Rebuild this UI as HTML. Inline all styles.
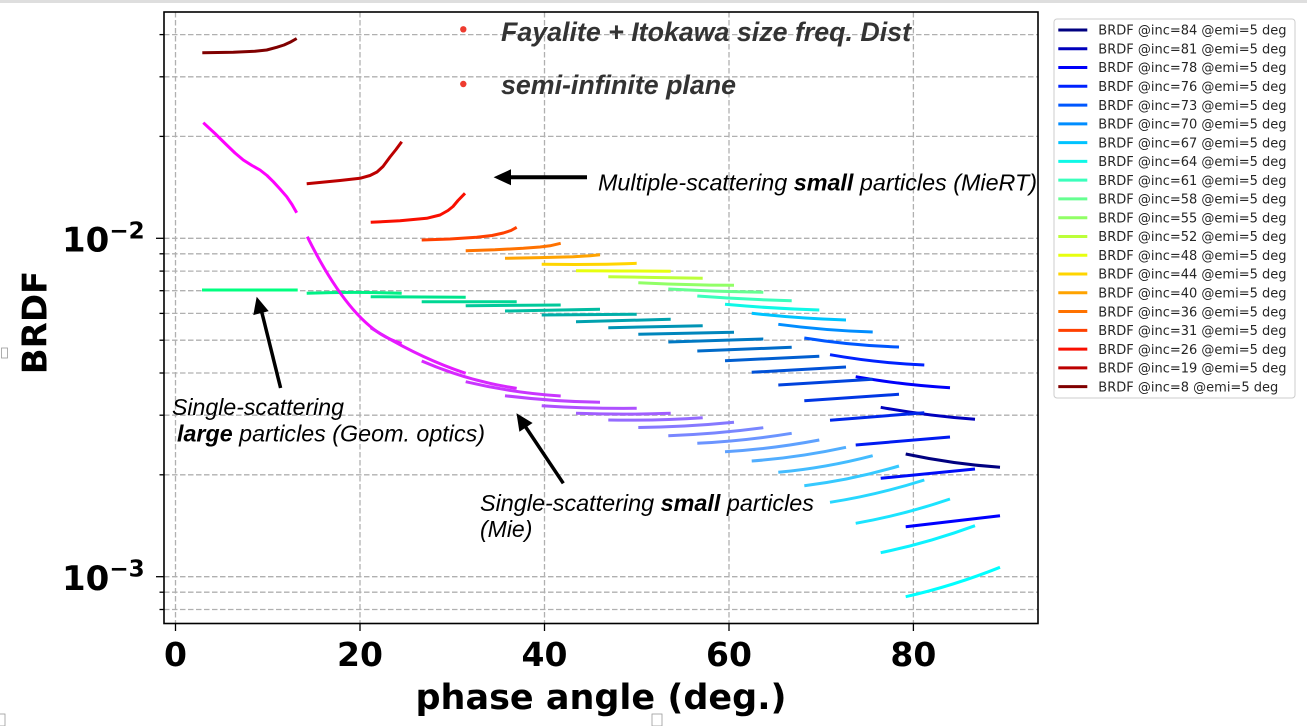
<!DOCTYPE html>
<html><head><meta charset="utf-8"><style>
html,body{margin:0;padding:0;background:#fff;}
svg{display:block;}
.dv{font-family:"DejaVu Sans","Liberation Sans",sans-serif;}
.lb{font-family:"Liberation Sans","DejaVu Sans",sans-serif;}
</style></head><body>
<svg width="1307" height="726" viewBox="0 0 1307 726" xmlns="http://www.w3.org/2000/svg">
<rect x="0" y="0" width="1307" height="726" fill="#fff"/>
<rect x="0" y="0" width="1307" height="3" fill="#dedede"/>

<!-- grid -->
<g stroke="#b0b0b0" stroke-width="1.3" stroke-dasharray="5.5,2.5" fill="none">
<line x1="175.5" y1="12" x2="175.5" y2="624"/>
<line x1="360" y1="12" x2="360" y2="624"/>
<line x1="544.5" y1="12" x2="544.5" y2="624"/>
<line x1="729" y1="12" x2="729" y2="624"/>
<line x1="913.4" y1="12" x2="913.4" y2="624"/>
<line x1="164" y1="34.6" x2="1038" y2="34.6"/>
<line x1="164" y1="76.8" x2="1038" y2="76.8"/>
<line x1="164" y1="136.4" x2="1038" y2="136.4"/>
<line x1="164" y1="238.3" x2="1038" y2="238.3"/>
<line x1="164" y1="253.8" x2="1038" y2="253.8"/>
<line x1="164" y1="271.1" x2="1038" y2="271.1"/>
<line x1="164" y1="290.7" x2="1038" y2="290.7"/>
<line x1="164" y1="313.4" x2="1038" y2="313.4"/>
<line x1="164" y1="340.2" x2="1038" y2="340.2"/>
<line x1="164" y1="373" x2="1038" y2="373"/>
<line x1="164" y1="415.2" x2="1038" y2="415.2"/>
<line x1="164" y1="474.8" x2="1038" y2="474.8"/>
<line x1="164" y1="576.7" x2="1038" y2="576.7"/>
<line x1="164" y1="592.2" x2="1038" y2="592.2"/>
<line x1="164" y1="609.5" x2="1038" y2="609.5"/>
</g>

<!-- Group A: multiple scattering (jet) -->
<g fill="none" stroke-width="3" stroke-linecap="butt" stroke-linejoin="round">
<path stroke="#800000" d="M202.3,52.7 L233.3,52.3 L255,51.2 L266.7,50 L276.7,47.3 L284,45 L290,42.3 L296.7,38.5"/>
<path stroke="#bc0000" d="M306.7,183.7 L340,180.5 L360,178.3 L370,175.5 L377,172 L383,166.5 L390,157 L396,149.5 L401.7,141.7"/>
<path stroke="#f90f00" d="M370.7,222.3 L400,220.8 L426.7,218.3 L440,215 L448,210.5 L453,206.5 L458,200.5 L465,193.3"/>
<path stroke="#ff4000" d="M421.7,240 L450,239 L476.7,237.3 L492,235.5 L503.3,233 L511,230.5 L516.7,227.3"/>
<path stroke="#ff7200" d="M465.7,250.7 L495,249.8 L523.3,248.3 L540,247 L550,245.8 L560.7,243.3"/>
<path stroke="#ffa300" d="M505,258.3 L540,257.6 L573.3,256.7 L590,255.8 L600,254.7"/>
<path stroke="#ffd500" d="M541.7,264.3 L575,264.5 L606.7,264.3 L625,263.8 L636.7,263.3"/>
<path stroke="#e7ff0f" d="M576,270.7 L623,271 L670.7,271.2"/>
<path stroke="#bcff3a" d="M608.3,276.7 L655,277.5 L702.7,278.3"/>
<path stroke="#91ff66" d="M638.3,282.7 Q686,285 734,285.3"/>
<path stroke="#66ff91" d="M668.3,289 Q715,291.5 763.3,292.3"/>
<path stroke="#3affbc" d="M697.3,296 Q744,299.5 791.7,300.7"/>
<path stroke="#0ff8e7" d="M725,304.3 Q772,308.5 819.3,310"/>
<path stroke="#00c3ff" d="M751.7,313.3 Q799,318.5 846,320"/>
<path stroke="#008dff" d="M778.3,324.3 Q825,330.5 872.7,332"/>
<path stroke="#0057ff" d="M804.3,338 Q851,345.5 899,347"/>
<path stroke="#0022ff" d="M830,354.7 Q877,363 924.3,365"/>
<path stroke="#0000fa" d="M855.7,376.7 Q903,385 950,387.7"/>
<path stroke="#0000bc" d="M880.7,407.3 Q928,416 975,419.3"/>
<path stroke="#000080" d="M905.7,454 Q953,464 1000,467.3"/>
</g>

<!-- Group B: single-scattering large (winter) -->
<g fill="none" stroke-width="3">
<path stroke="#00ff80" d="M202,290 L297.7,290"/>
<path stroke="#00f186" d="M306.7,293.3 Q354,291.5 401.7,293.3"/>
<path stroke="#00e48d" d="M370.7,296.7 L465.7,297.3"/>
<path stroke="#00d794" d="M421.7,301.7 L516.7,301.7"/>
<path stroke="#00c99a" d="M465.7,305.7 L560.7,305"/>
<path stroke="#00bca1" d="M505,311 L600,309.3"/>
<path stroke="#00aea8" d="M541.7,315 L636.7,314.3"/>
<path stroke="#00a1ae" d="M576,321.7 L670.7,319.3"/>
<path stroke="#0094b5" d="M608.3,327.7 L702.7,325.7"/>
<path stroke="#0086bc" d="M638.3,334.3 L734,332.3"/>
<path stroke="#0079c3" d="M668.3,342 L763.3,339"/>
<path stroke="#006bc9" d="M697.3,351 L791.7,347.3"/>
<path stroke="#005ed0" d="M725,360.7 L819.3,356.3"/>
<path stroke="#0051d7" d="M751.7,372.3 L846,367"/>
<path stroke="#0043dd" d="M778.3,385 L872.7,379.3"/>
<path stroke="#0036e4" d="M804.3,400.7 L899,394.3"/>
<path stroke="#0028eb" d="M830,420.3 L924.3,412.7"/>
<path stroke="#001bf1" d="M855.7,445 L950,437"/>
<path stroke="#000df8" d="M880.7,478.3 L975,469"/>
<path stroke="#0000ff" d="M905.7,526.7 L1000,515.7"/>
</g>

<!-- Group C: single-scattering small (cool) -->
<g fill="none" stroke-width="3" stroke-linejoin="round">
<path stroke="#ff00ff" d="M203.3,122.7 L215,133.5 L226.7,145 L235,153 L243.3,160 L252,165.5 L260,170 L267,175.5 L273.3,181.7 L280,189 L286.7,196.7 L292,204.5 L296.7,212.7"/>
<path stroke="#f20dff" d="M307.3,236.7 Q354.5,332 401.7,343.3"/>
<path stroke="#e41bff" d="M370.7,327.7 Q418.2,357.5 465.7,373.3"/>
<path stroke="#d728ff" d="M421.7,361 Q469.2,381.5 516.7,388.3"/>
<path stroke="#c936ff" d="M465.7,381.7 Q513.2,393 560.7,396"/>
<path stroke="#bc43ff" d="M505,395.7 Q552.5,401.5 600,402.3"/>
<path stroke="#ae51ff" d="M541.7,405.7 Q589,408.8 636.7,408.3"/>
<path stroke="#a15eff" d="M576,413.3 Q623,415 670.7,413.3"/>
<path stroke="#946bff" d="M608.3,420 Q655.5,420.8 702.7,417.7"/>
<path stroke="#8679ff" d="M638.3,427.5 Q686,427 734,422.3"/>
<path stroke="#7986ff" d="M668.3,435.7 Q716,434 763.3,427.7"/>
<path stroke="#6b94ff" d="M697.3,443.3 Q744.5,441 791.7,433.3"/>
<path stroke="#5ea1ff" d="M725,451.7 Q772,449 819.3,440"/>
<path stroke="#51aeff" d="M751.7,461 Q799,457.5 846,447.3"/>
<path stroke="#43bcff" d="M778.3,472.3 Q825.5,468 872.7,455.7"/>
<path stroke="#36c9ff" d="M804.3,485.7 Q851.7,480 899,466"/>
<path stroke="#28d7ff" d="M830,502.3 Q877,495 924.3,480"/>
<path stroke="#1be4ff" d="M855.7,523.3 Q903,515 950,499"/>
<path stroke="#0df2ff" d="M880.7,552.7 Q928,543 975,525.7"/>
<path stroke="#00ffff" d="M905.7,596.7 Q953,586 1000,567.3"/>
</g>

<!-- frame -->
<rect x="164" y="12" width="874" height="611.5" fill="none" stroke="#000" stroke-width="1.6"/>

<!-- ticks -->
<g stroke="#000" stroke-width="1.3">
<line x1="175.5" y1="624" x2="175.5" y2="631"/>
<line x1="360" y1="624" x2="360" y2="631"/>
<line x1="544.5" y1="624" x2="544.5" y2="631"/>
<line x1="729" y1="624" x2="729" y2="631"/>
<line x1="913.4" y1="624" x2="913.4" y2="631"/>
<line x1="156" y1="238.3" x2="164" y2="238.3"/>
<line x1="156" y1="576.7" x2="164" y2="576.7"/>
<line x1="159.5" y1="34.6" x2="164" y2="34.6"/>
<line x1="159.5" y1="76.8" x2="164" y2="76.8"/>
<line x1="159.5" y1="136.4" x2="164" y2="136.4"/>
<line x1="159.5" y1="253.8" x2="164" y2="253.8"/>
<line x1="159.5" y1="271.1" x2="164" y2="271.1"/>
<line x1="159.5" y1="290.7" x2="164" y2="290.7"/>
<line x1="159.5" y1="313.4" x2="164" y2="313.4"/>
<line x1="159.5" y1="340.2" x2="164" y2="340.2"/>
<line x1="159.5" y1="373" x2="164" y2="373"/>
<line x1="159.5" y1="415.2" x2="164" y2="415.2"/>
<line x1="159.5" y1="474.8" x2="164" y2="474.8"/>
<line x1="159.5" y1="592.2" x2="164" y2="592.2"/>
<line x1="159.5" y1="609.5" x2="164" y2="609.5"/>
</g>

<!-- tick labels -->
<g class="dv" font-weight="bold" font-size="33" fill="#000" text-anchor="middle">
<text x="175.5" y="666">0</text>
<text x="360" y="666">20</text>
<text x="544.5" y="666">40</text>
<text x="729" y="666">60</text>
<text x="913.4" y="666">80</text>
</g>
<g class="dv" font-weight="bold" fill="#000">
<text x="62" y="251.7" font-size="34">10<tspan font-size="23" dy="-13.4">−2</tspan></text>
<text x="62" y="590" font-size="34">10<tspan font-size="23" dy="-13.4">−3</tspan></text>
</g>

<!-- axis labels -->
<text class="dv" x="601" y="709" font-size="35" font-weight="bold" text-anchor="middle" fill="#000">phase angle (deg.)</text>
<text class="dv" transform="translate(46.5,322.5) rotate(-90)" x="0" y="0" font-size="34" font-weight="bold" text-anchor="middle" fill="#000">BRDF</text>

<!-- annotations -->
<circle cx="463.3" cy="29.3" r="3.2" fill="#ee3b2f"/>
<circle cx="463.3" cy="84" r="3.2" fill="#ee3b2f"/>
<text class="lb" x="501" y="41" font-size="26.5" font-weight="bold" font-style="italic" fill="#333" textLength="410" lengthAdjust="spacingAndGlyphs">Fayalite + Itokawa size freq. Dist</text>
<text class="lb" x="501" y="94" font-size="26.5" font-weight="bold" font-style="italic" fill="#333" textLength="235" lengthAdjust="spacingAndGlyphs">semi-infinite plane</text>

<!-- arrow 1 -->
<line x1="587" y1="177.3" x2="508" y2="177.3" stroke="#000" stroke-width="4"/>
<polygon points="493.6,177.3 511,169.3 511,185.3" fill="#000"/>
<text class="lb" x="598" y="190.5" font-size="23" font-style="italic" fill="#000" textLength="439" lengthAdjust="spacingAndGlyphs">Multiple-scattering <tspan font-weight="bold">small</tspan> particles (MieRT)</text>

<!-- arrow 2 -->
<line x1="280.6" y1="388" x2="261.5" y2="311" stroke="#000" stroke-width="3.5"/>
<polygon points="256.7,296.7 268.7,311.1 253.3,315.1" fill="#000"/>
<text class="lb" x="172" y="415" font-size="23" font-style="italic" fill="#000" textLength="172" lengthAdjust="spacingAndGlyphs">Single-scattering</text>
<text class="lb" x="177" y="441.7" font-size="23" font-style="italic" fill="#000" textLength="308" lengthAdjust="spacingAndGlyphs"><tspan font-weight="bold">large</tspan> particles (Geom. optics)</text>

<!-- arrow 3 -->
<line x1="563.3" y1="483.3" x2="525" y2="426" stroke="#000" stroke-width="3.5"/>
<polygon points="516.5,413.3 532.6,423 519.4,431.8" fill="#000"/>
<text class="lb" x="480" y="511" font-size="23" font-style="italic" fill="#000" textLength="334" lengthAdjust="spacingAndGlyphs">Single-scattering <tspan font-weight="bold">small</tspan> particles</text>
<text class="lb" x="480" y="537" font-size="23" font-style="italic" fill="#000">(Mie)</text>

<!-- tofu boxes -->
<g fill="none" stroke="#9a9a9a" stroke-width="0.8">
<rect x="1.5" y="348" width="6" height="10"/>
<rect x="-1" y="714" width="6" height="12"/>
<rect x="652" y="714" width="10" height="12"/>
</g>

<!-- legend -->
<rect x="1054" y="19" width="241" height="379" rx="3" ry="3" fill="#fff" stroke="#cccccc" stroke-width="1"/>
<g stroke-width="3">
<line x1="1058.3" y1="30" x2="1087.3" y2="30" stroke="#000080"/>
<line x1="1058.3" y1="48.77" x2="1087.3" y2="48.77" stroke="#0000bc"/>
<line x1="1058.3" y1="67.54" x2="1087.3" y2="67.54" stroke="#0000fa"/>
<line x1="1058.3" y1="86.31" x2="1087.3" y2="86.31" stroke="#0022ff"/>
<line x1="1058.3" y1="105.08" x2="1087.3" y2="105.08" stroke="#0057ff"/>
<line x1="1058.3" y1="123.85" x2="1087.3" y2="123.85" stroke="#008dff"/>
<line x1="1058.3" y1="142.62" x2="1087.3" y2="142.62" stroke="#00c3ff"/>
<line x1="1058.3" y1="161.39" x2="1087.3" y2="161.39" stroke="#0ff8e7"/>
<line x1="1058.3" y1="180.16" x2="1087.3" y2="180.16" stroke="#3affbc"/>
<line x1="1058.3" y1="198.93" x2="1087.3" y2="198.93" stroke="#66ff91"/>
<line x1="1058.3" y1="217.7" x2="1087.3" y2="217.7" stroke="#91ff66"/>
<line x1="1058.3" y1="236.47" x2="1087.3" y2="236.47" stroke="#bcff3a"/>
<line x1="1058.3" y1="255.24" x2="1087.3" y2="255.24" stroke="#e7ff0f"/>
<line x1="1058.3" y1="274.01" x2="1087.3" y2="274.01" stroke="#ffd500"/>
<line x1="1058.3" y1="292.78" x2="1087.3" y2="292.78" stroke="#ffa300"/>
<line x1="1058.3" y1="311.55" x2="1087.3" y2="311.55" stroke="#ff7200"/>
<line x1="1058.3" y1="330.32" x2="1087.3" y2="330.32" stroke="#ff4000"/>
<line x1="1058.3" y1="349.09" x2="1087.3" y2="349.09" stroke="#f90f00"/>
<line x1="1058.3" y1="367.86" x2="1087.3" y2="367.86" stroke="#bc0000"/>
<line x1="1058.3" y1="386.63" x2="1087.3" y2="386.63" stroke="#800000"/>
</g>
<g class="dv" font-size="13" fill="#262626">
<text x="1098.3" y="34.7">BRDF @inc=84 @emi=5 deg</text>
<text x="1098.3" y="53.47">BRDF @inc=81 @emi=5 deg</text>
<text x="1098.3" y="72.24">BRDF @inc=78 @emi=5 deg</text>
<text x="1098.3" y="91.01">BRDF @inc=76 @emi=5 deg</text>
<text x="1098.3" y="109.78">BRDF @inc=73 @emi=5 deg</text>
<text x="1098.3" y="128.55">BRDF @inc=70 @emi=5 deg</text>
<text x="1098.3" y="147.32">BRDF @inc=67 @emi=5 deg</text>
<text x="1098.3" y="166.09">BRDF @inc=64 @emi=5 deg</text>
<text x="1098.3" y="184.86">BRDF @inc=61 @emi=5 deg</text>
<text x="1098.3" y="203.63">BRDF @inc=58 @emi=5 deg</text>
<text x="1098.3" y="222.4">BRDF @inc=55 @emi=5 deg</text>
<text x="1098.3" y="241.17">BRDF @inc=52 @emi=5 deg</text>
<text x="1098.3" y="259.94">BRDF @inc=48 @emi=5 deg</text>
<text x="1098.3" y="278.71">BRDF @inc=44 @emi=5 deg</text>
<text x="1098.3" y="297.48">BRDF @inc=40 @emi=5 deg</text>
<text x="1098.3" y="316.25">BRDF @inc=36 @emi=5 deg</text>
<text x="1098.3" y="335.02">BRDF @inc=31 @emi=5 deg</text>
<text x="1098.3" y="353.79">BRDF @inc=26 @emi=5 deg</text>
<text x="1098.3" y="372.56">BRDF @inc=19 @emi=5 deg</text>
<text x="1098.3" y="391.33">BRDF @inc=8 @emi=5 deg</text>
</g>
</svg>
</body></html>
